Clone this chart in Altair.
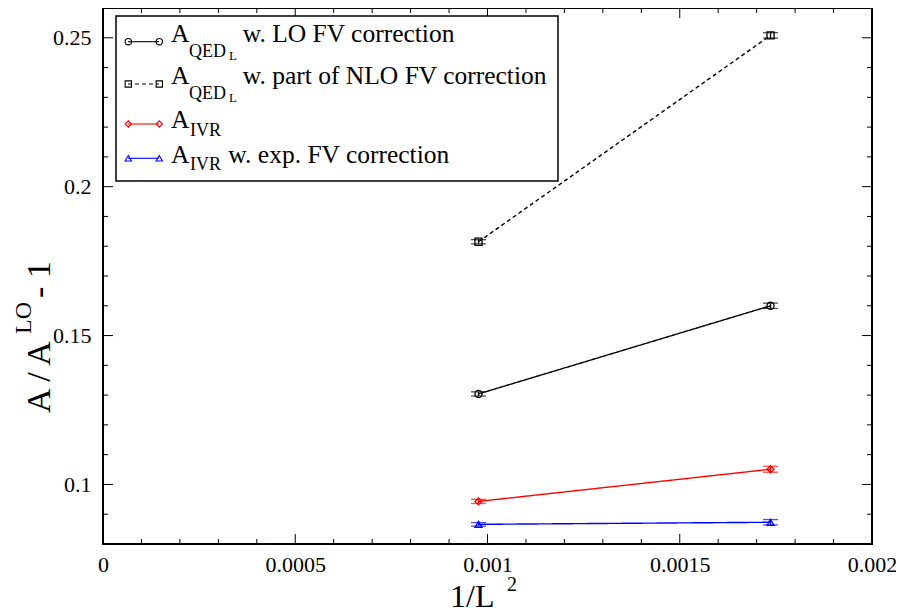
import altair as alt
import pandas as pd

FONT = "Liberation Serif"

# ---------------- data ----------------
inv_L2 = [0.0009766, 0.0017361]          # 1/32^2, 1/24^2
series_names = ["QED_L LO", "QED_L NLO", "IVR", "IVR exp"]
qed_lo = [0.1304, 0.1600]
qed_lo_err = [0.0007, 0.0009]
qed_nlo = [0.1815, 0.2508]
qed_nlo_err = [0.0007, 0.0009]
ivr = [0.0943, 0.1051]
ivr_err = [0.0007, 0.0010]
ivr_exp = [0.0866, 0.0873]
ivr_exp_err = [0.0006, 0.0009]

colors = ["#000000", "#000000", "#ff0000", "#0000ff"]
shapes = ["circle", "square", "diamond", "triangle-up"]
dashes = [[1, 0], [4, 3], [1, 0], [1, 0]]

x_major = [0, 0.0005, 0.001, 0.0015, 0.002]
y_major = [0.1, 0.15, 0.2, 0.25]
x_minor = [round(i * 0.0001, 4) for i in range(1, 20) if i % 5 != 0]
y_minor = [round(0.08 + i * 0.01, 2) for i in range(0, 19)]
y_minor = [v for v in y_minor if v not in (0.1, 0.15, 0.2, 0.25)]

rows = []
for name, ys, es in zip(series_names,
                        [qed_lo, qed_nlo, ivr, ivr_exp],
                        [qed_lo_err, qed_nlo_err, ivr_err, ivr_exp_err]):
    for x, y, e in zip(inv_L2, ys, es):
        rows.append({"series": name, "x": x, "y": y, "lo": y - e, "hi": y + e})
df = pd.DataFrame(rows)

W, H = 769, 536
XD = [0, 0.002]
YD = [0.08, 0.26]

xs = alt.Scale(domain=XD, nice=False, zero=False)
ys = alt.Scale(domain=YD, nice=False, zero=False)
col = alt.Color("series:N", scale=alt.Scale(domain=series_names, range=colors), legend=None)

base = alt.Chart(df)

xaxis = alt.Axis(values=x_major, format="~g", ticks=False, domain=False, grid=False,
                 labelFont=FONT, labelFontSize=22, labelColor="black", labelPadding=10,
                 labelFlush=False)
yaxis = alt.Axis(values=y_major, format="~g", ticks=False, domain=False, grid=False,
                 labelFont=FONT, labelFontSize=22, labelColor="black", labelPadding=12)

lines = base.mark_line(strokeWidth=1.4).encode(
    x=alt.X("x:Q", scale=xs, axis=xaxis, title=""),
    y=alt.Y("y:Q", scale=ys, axis=yaxis, title=""),
    color=col,
    strokeDash=alt.StrokeDash("series:N", scale=alt.Scale(domain=series_names, range=dashes), legend=None),
    detail="series:N",
)

errs = base.mark_rule(strokeWidth=1.3).encode(
    x=alt.X("x:Q", scale=xs), y=alt.Y("lo:Q", scale=ys), y2="hi:Q", color=col)
cap_lo = base.mark_tick(orient="horizontal", size=15, thickness=1.3).encode(
    x=alt.X("x:Q", scale=xs), y=alt.Y("lo:Q", scale=ys), color=col)
cap_hi = base.mark_tick(orient="horizontal", size=15, thickness=1.3).encode(
    x=alt.X("x:Q", scale=xs), y=alt.Y("hi:Q", scale=ys), color=col)

pts = base.mark_point(filled=False, strokeWidth=1.3, size=50, opacity=1).encode(
    x=alt.X("x:Q", scale=xs), y=alt.Y("y:Q", scale=ys), color=col,
    shape=alt.Shape("series:N", scale=alt.Scale(domain=series_names, range=shapes), legend=None),
)

# ---------------- inward ticks ----------------
def xticks(vals, length):
    d = alt.Chart(pd.DataFrame({"v": vals}))
    b = d.mark_rule(color="black", strokeWidth=1).encode(
        x=alt.X("v:Q", scale=xs), y=alt.value(H), y2=alt.value(H - length))
    t = d.mark_rule(color="black", strokeWidth=1).encode(
        x=alt.X("v:Q", scale=xs), y=alt.value(0), y2=alt.value(length))
    return [b, t]

def yticks(vals, length):
    d = alt.Chart(pd.DataFrame({"v": vals}))
    l = d.mark_rule(color="black", strokeWidth=1).encode(
        y=alt.Y("v:Q", scale=ys), x=alt.value(0), x2=alt.value(length))
    r = d.mark_rule(color="black", strokeWidth=1).encode(
        y=alt.Y("v:Q", scale=ys), x=alt.value(W), x2=alt.value(W - length))
    return [l, r]

tick_layers = xticks(x_major, 10) + xticks(x_minor, 5) + yticks(y_major, 10) + yticks(y_minor, 5)

# ---------------- manual texts (legend, titles) ----------------
one = alt.Data(values=[{"a": 1}])

def txt(s, x, y, size, angle=0, color="black"):
    return alt.Chart(one).mark_text(text=s, font=FONT, fontSize=size, align="left",
                                    baseline="alphabetic", color=color, angle=angle).encode(
        x=alt.value(x), y=alt.value(y))

def sym(shape, x, y, color):
    return alt.Chart(one).mark_point(shape=shape, filled=False, size=40, strokeWidth=1.1,
                                     color=color, opacity=1).encode(x=alt.value(x), y=alt.value(y))

def seg(x1, x2, y, color, dash=None):
    kw = {"strokeDash": dash} if dash else {}
    return alt.Chart(one).mark_rule(color=color, strokeWidth=1.1, **kw).encode(
        x=alt.value(x1), x2=alt.value(x2), y=alt.value(y))

legend_box = alt.Chart(one).mark_rect(fill="white", stroke="black", strokeWidth=1.5).encode(
    x=alt.value(13), x2=alt.value(455), y=alt.value(8), y2=alt.value(173))

LEG = 25.5
leg = [legend_box]
sym_y = [33.7, 76, 116, 150.3]
base_y = [33.7, 76, 120.3, 155.3]
for i in range(4):
    leg.append(seg(25, 56, sym_y[i], colors[i], dashes[i] if i == 1 else None))
    leg.append(sym(shapes[i], 25.3, sym_y[i], colors[i]))
    leg.append(sym(shapes[i], 56.3, sym_y[i], colors[i]))
    leg.append(txt("A", 68, base_y[i], LEG))

for i, rest in [(0, "w. LO FV correction"), (1, "w. part of NLO FV correction")]:
    leg.append(txt("QED", 86, base_y[i] + 15, 18))
    leg.append(txt("L", 126, base_y[i] + 18, 13))
    leg.append(txt(rest, 139.7, base_y[i], LEG))
leg.append(txt("IVR", 87, base_y[2] + 8, 18))
leg.append(txt("IVR", 87, base_y[3] + 7, 18))
leg.append(txt("w. exp. FV correction", 125.3, base_y[3], LEG))

titles = [
    txt("1/L", 347, 599, 32),
    txt("2", 404, 583, 20),
    txt("A / A", -53, 405, 34, angle=270),
    txt("LO", -72, 326, 24, angle=270),
    txt("- 1", -53, 290, 34, angle=270),
]

chart = alt.layer(
    *tick_layers, lines, errs, cap_lo, cap_hi, pts, *leg, *titles
).properties(
    width=W, height=H,
    autosize=alt.AutoSizeParams(type="none"),
    padding={"left": 95, "top": 0, "right": 24, "bottom": 70},
).configure_view(stroke="black", strokeWidth=2)

chart.save("out.html", embed_options={"renderer": "svg", "actions": False})
